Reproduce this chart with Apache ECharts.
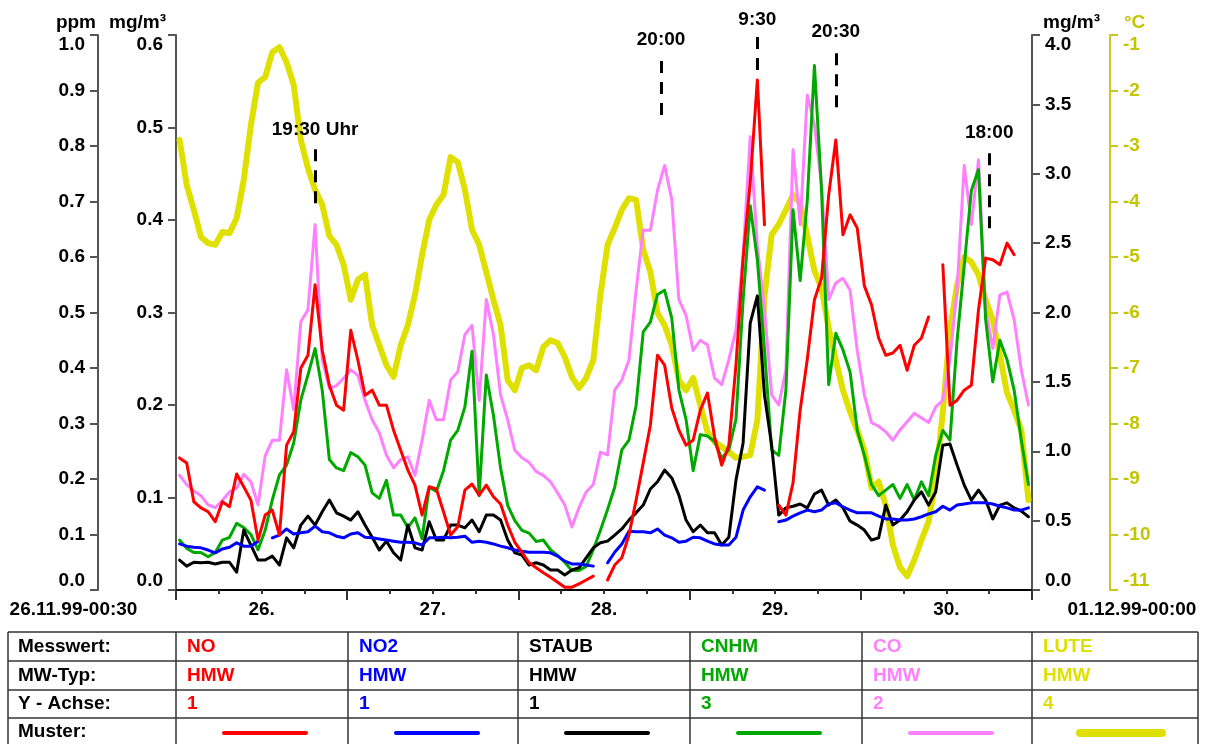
<!DOCTYPE html>
<html>
<head>
<meta charset="utf-8">
<script src="https://cdn.jsdelivr.net/npm/echarts@6.0.0/dist/echarts.min.js"></script>
<style>
  html, body { margin: 0; padding: 0; background: #ffffff; }
  #chart { width: 1210px; height: 744px; }
</style>
</head>
<body>
<div id="chart"></div>
<script>
// Half-hour means (HMW), one value per hour, 26.11.99 00:30 .. 30.11.99 23:30
const FONT = '"Liberation Sans", Arial, Helvetica, sans-serif';
const START_HOUR = 0.5;
const HOURS = Array.from({ length: 120 }, (_, i) => START_HOUR + i);

// NO [ppm] – Y axis 1
const NO = [
  0.238,0.229,0.159,0.148,0.141,0.123,0.159,0.150,0.209,0.186,
  0.162,0.090,0.135,0.144,0.099,0.261,0.285,0.400,0.423,0.550,
  0.432,0.369,0.333,0.324,0.468,0.414,0.351,0.360,0.333,0.333,
  0.288,0.252,0.216,0.189,0.135,0.186,0.182,0.141,0.099,0.114,
  0.180,0.191,0.171,0.189,0.168,0.155,0.117,0.086,0.068,0.049,
  0.040,0.031,0.023,0.014,0.005,0.005,0.011,0.018,0.025,null,
  0.018,0.045,0.058,0.099,0.162,0.229,0.297,0.423,0.405,0.328,
  0.288,0.261,0.270,0.324,0.355,0.276,0.225,0.261,0.405,0.598,
  0.735,0.919,0.658,null,0.153,0.135,0.193,0.324,0.416,0.523,
  0.562,0.712,0.811,0.640,0.676,0.652,0.548,0.514,0.454,0.423,
  0.427,0.441,0.396,0.441,0.454,0.492,null,0.586,0.333,0.342,
  0.360,0.369,0.505,0.598,0.595,0.586,0.625,0.604,null,0.550
];

// NO2 [ppm] – Y axis 1
const NO2 = [
  0.083,0.079,0.077,0.076,0.072,0.067,0.074,0.077,0.085,0.079,
  0.079,0.088,null,0.094,0.099,0.110,0.101,0.103,0.105,0.115,
  0.105,0.103,0.097,0.094,0.101,0.103,0.095,0.094,0.092,0.090,
  0.088,0.086,0.086,0.085,0.081,0.094,0.094,0.095,0.094,0.095,
  0.097,0.086,0.088,0.086,0.083,0.079,0.076,0.072,0.070,0.068,
  0.068,0.068,0.067,0.061,0.052,0.047,0.047,0.045,0.043,null,
  0.049,0.068,0.083,0.106,0.105,0.105,0.103,0.110,0.099,0.094,
  0.086,0.088,0.095,0.094,0.088,0.083,0.081,0.081,0.095,0.144,
  0.168,0.186,0.180,null,0.123,0.126,0.133,0.139,0.144,0.141,
  0.144,0.155,0.157,0.150,0.144,0.139,0.139,0.139,0.133,0.128,
  0.128,0.126,0.126,0.128,0.132,0.137,0.141,0.151,0.144,0.153,
  0.155,0.157,0.157,0.157,0.155,0.151,0.148,0.144,0.144,0.148
];

// STAUB [mg/m³] – Y axis 1
const STAUB = [
  0.054,0.043,0.050,0.049,0.050,0.047,0.050,0.050,0.032,0.108,
  0.081,0.054,0.054,0.061,0.045,0.094,0.076,0.117,0.133,0.117,
  0.141,0.162,0.139,0.133,0.126,0.141,0.117,0.095,0.072,0.088,
  0.067,0.054,0.117,0.076,0.072,0.123,0.090,0.090,0.117,0.117,
  0.112,0.126,0.105,0.135,0.135,0.126,0.090,0.067,0.063,0.045,
  0.049,0.045,0.036,0.036,0.027,0.036,0.040,0.058,0.076,0.085,
  0.088,0.099,0.110,0.126,0.139,0.153,0.182,0.195,0.216,0.202,
  0.171,0.126,0.105,0.117,0.103,0.103,0.081,0.095,0.198,0.265,
  0.481,0.530,0.351,0.261,0.135,0.148,0.151,0.155,0.148,0.173,
  0.180,0.153,0.162,0.148,0.124,0.117,0.108,0.090,0.094,0.153,
  0.117,0.126,0.141,0.162,0.177,0.153,0.177,0.261,0.263,0.225,
  0.189,0.162,0.180,0.162,0.128,0.153,0.157,0.148,0.142,0.132
];

// CNHM [mg/m³] – Y axis 3
const CNHM = [
  0.36,0.30,0.27,0.27,0.24,0.27,0.36,0.38,0.48,0.45,
  0.40,0.29,0.43,0.65,0.83,0.90,1.06,1.37,1.55,1.74,
  1.44,0.94,0.88,0.86,0.99,0.96,0.90,0.70,0.66,0.79,
  0.54,0.54,0.45,0.52,0.37,0.74,0.71,0.86,1.08,1.15,
  1.32,1.72,0.68,1.55,1.26,0.88,0.61,0.50,0.43,0.41,
  0.35,0.36,0.29,0.25,0.20,0.14,0.14,0.17,0.29,0.43,
  0.58,0.74,1.01,1.08,1.33,1.86,1.93,2.13,2.16,1.96,
  1.44,1.23,0.86,1.12,1.11,1.07,0.95,1.01,1.23,2.09,
  2.77,2.38,1.73,1.01,0.97,1.44,2.74,2.23,2.81,3.78,
  2.88,1.48,1.85,1.73,1.57,1.15,0.97,0.76,0.68,0.72,
  0.76,0.66,0.76,0.65,0.78,0.68,0.97,1.15,1.08,1.80,
  2.34,2.88,3.03,1.95,1.50,1.80,1.66,1.44,1.08,0.76
];

// CO [mg/m³] – Y axis 2
const CO = [
  0.124,0.114,0.107,0.102,0.092,0.089,0.097,0.106,0.110,0.125,
  0.117,0.092,0.145,0.162,0.162,0.238,0.195,0.290,0.303,0.395,
  0.249,0.218,0.221,0.229,0.238,0.232,0.205,0.184,0.170,0.146,
  0.132,0.141,0.144,0.124,0.162,0.205,0.184,0.184,0.227,0.236,
  0.276,0.286,0.205,0.314,0.276,0.211,0.184,0.151,0.143,0.138,
  0.128,0.124,0.117,0.105,0.092,0.068,0.089,0.106,0.114,0.149,
  0.146,0.216,0.227,0.249,0.324,0.389,0.389,0.432,0.459,0.422,
  0.314,0.297,0.259,0.270,0.265,0.229,0.222,0.249,0.281,0.362,
  0.490,0.372,0.303,0.211,0.200,0.238,0.476,0.395,0.535,0.503,
  0.438,0.314,0.332,0.337,0.324,0.259,0.211,0.181,0.177,0.171,
  0.162,0.173,0.182,0.191,0.186,0.181,0.198,0.205,0.250,0.325,
  0.459,0.395,0.465,0.303,0.261,0.319,0.322,0.292,0.238,0.200
];

// LUTE [°C] – Y axis 4
const LUTE = [
  -2.89,-3.70,-4.15,-4.64,-4.75,-4.78,-4.55,-4.57,-4.30,-3.61,
  -2.62,-1.86,-1.76,-1.31,-1.22,-1.49,-1.90,-2.89,-3.40,-3.79,
  -4.06,-4.62,-4.78,-5.14,-5.77,-5.41,-5.32,-6.23,-6.59,-6.95,
  -7.16,-6.59,-6.23,-5.68,-4.96,-4.33,-4.06,-3.88,-3.20,-3.29,
  -3.79,-4.51,-4.78,-5.27,-5.77,-6.23,-7.22,-7.40,-7.00,-6.95,
  -7.04,-6.62,-6.50,-6.55,-6.80,-7.16,-7.36,-7.18,-6.86,-5.68,
  -4.78,-4.48,-4.15,-3.94,-3.97,-4.87,-5.27,-6.01,-6.23,-6.59,
  -7.22,-7.40,-7.18,-7.67,-8.15,-8.33,-8.42,-8.51,-8.62,-8.60,
  -8.57,-7.94,-5.70,-4.60,-4.41,-4.15,-3.88,-4.03,-4.62,-5.25,
  -5.56,-6.28,-6.86,-7.40,-7.79,-8.12,-8.48,-9.16,-9.05,-9.47,
  -10.19,-10.59,-10.75,-10.46,-10.10,-9.77,-9.02,-7.79,-6.32,-5.50,
  -5.00,-5.09,-5.32,-5.77,-6.14,-6.77,-7.45,-7.76,-8.12,-9.38
];

// Legend table contents
const SERIES_NAMES = ['NO', 'NO2', 'STAUB', 'CNHM', 'CO', 'LUTE'];
const SERIES_DATA = [NO, NO2, STAUB, CNHM, CO, LUTE];
const MW_TYPES = ['HMW', 'HMW', 'HMW', 'HMW', 'HMW', 'HMW'];
const Y_AXIS_NUMBERS = [1, 1, 1, 3, 2, 4];
const ROW_TITLES = ['Messwert:', 'MW-Typ:', 'Y - Achse:', 'Muster:'];
const COLORS = ['#ff0000', '#0000ff', '#000000', '#00a800', '#ff80ff', '#e0e000'];
const LINE_WIDTHS = [3, 3, 3, 3, 3, 6];
const DRAW_ORDER = [5, 4, 3, 2, 1, 0];

// X axis: hours since 26.11.99 00:00
const X_MIN = 0, X_MAX = 120;
const DAY_LABEL_HOURS = [12, 36, 60, 84, 108];
const DAY_LABELS = ['26.', '27.', '28.', '29.', '30.'];
const START_LABEL = '26.11.99-00:30';
const END_LABEL = '01.12.99-00:00';

// Y axes
const Y_AXES = [
  { name: 'ppm',   min: 0,   max: 1,   interval: 0.1, pos: 'left',  offset: 78, digits: 1 },
  { name: 'mg/m³', min: 0,   max: 0.6, interval: 0.1, pos: 'left',  offset: 0,  digits: 1 },
  { name: 'mg/m³', min: 0,   max: 4,   interval: 0.5, pos: 'right', offset: 0,  digits: 1 },
  { name: '°C',    min: -11, max: -1,  interval: 1,   pos: 'right', offset: 78, digits: 0 }
];
const TEMP_AXIS_COLOR = '#c4c400';

// Time markers (ppm scale)
const MARK_TIMES = [19.5, 68, 81.5, 92.5, 114];
const MARK_TEXTS = ['19:30 Uhr', '20:00', '9:30', '20:30', '18:00'];
const MARK_FROM = [0.697, 0.856, 0.937, 0.870, 0.652];
const MARK_TO = [0.802, 0.964, 1.0, 0.977, 0.796];

const chart = echarts.init(document.getElementById('chart'), null, { renderer: 'canvas' });

const boldText = { fontFamily: FONT, fontWeight: 'bold', fontSize: 19 };

const yAxis = Y_AXES.map((a, idx) => {
  const isTemp = idx === 3;
  const lineColor = isTemp ? '#c8c820' : '#555555';
  const textColor = isTemp ? TEMP_AXIS_COLOR : '#000000';
  const left = a.pos === 'left';
  return {
    type: 'value', min: a.min, max: a.max, interval: a.interval,
    position: a.pos, offset: a.offset,
    name: a.name, nameLocation: 'end', nameGap: 3,
    nameTextStyle: Object.assign({}, boldText, {
      color: textColor,
      align: left ? 'right' : 'left',
      padding: left ? [0, idx === 0 ? 2 : 10, 0, 0] : [0, 0, 0, idx === 3 ? 14 : 11]
    }),
    splitLine: { show: false },
    axisLine: { show: true, onZero: false, lineStyle: { color: lineColor, width: 2 } },
    axisTick: { show: true, inside: false, length: 8, lineStyle: { color: lineColor, width: 2 } },
    axisLabel: Object.assign({}, boldText, {
      color: textColor, margin: 13,
      verticalAlignMinLabel: 'bottom', verticalAlignMaxLabel: 'top',
      formatter: v => v.toFixed(a.digits)
    })
  };
});

const xLabelValues = [X_MIN].concat(DAY_LABEL_HOURS, [X_MAX]);
function xLabel(v) {
  if (v === X_MIN) return '{s|' + START_LABEL + '}';
  if (v === X_MAX) return '{e|' + END_LABEL + '}';
  const i = DAY_LABEL_HOURS.indexOf(v);
  return i >= 0 ? DAY_LABELS[i] : '';
}

const series = DRAW_ORDER.map(i => {
  const s = {
    name: SERIES_NAMES[i], type: 'line',
    xAxisIndex: 0, yAxisIndex: Y_AXIS_NUMBERS[i] - 1,
    data: HOURS.map((h, k) => [h, SERIES_DATA[i][k] == null ? '-' : SERIES_DATA[i][k]]),
    showSymbol: false, symbol: 'none', connectNulls: false, clip: false,
    lineStyle: { color: COLORS[i], width: LINE_WIDTHS[i], join: 'round', cap: 'round' },
    itemStyle: { color: COLORS[i] },
    silent: true, animation: false
  };
  if (i === 0) {
    s.markLine = {
      silent: true, symbol: ['none', 'none'], animation: false,
      lineStyle: { color: '#000000', width: 3, type: [12, 9] },
      label: Object.assign({}, boldText, {
        show: true, position: 'end', distance: 6, color: '#000000',
        formatter: p => p.name
      }),
      emphasis: { disabled: true },
      data: MARK_TIMES.map((t, k) => [
        { name: MARK_TEXTS[k], coord: [t, MARK_FROM[k]] },
        { coord: [t, MARK_TO[k]] }
      ])
    };
  }
  return s;
});

// Legend table drawn below the plot
const TABLE_X = [8, 176, 348, 518, 690, 862, 1032, 1198];
const TABLE_Y = [632, 661, 690, 718, 750];
const graphic = [];
TABLE_Y.slice(0, 4).forEach(y => graphic.push({
  type: 'line', silent: true,
  shape: { x1: TABLE_X[0], y1: y, x2: TABLE_X[TABLE_X.length - 1], y2: y },
  style: { stroke: '#333333', lineWidth: 1.5 }
}));
TABLE_X.forEach(x => graphic.push({
  type: 'line', silent: true,
  shape: { x1: x, y1: TABLE_Y[0], x2: x, y2: TABLE_Y[TABLE_Y.length - 1] },
  style: { stroke: '#333333', lineWidth: 1.5 }
}));
function cellText(text, x, row, color) {
  const yc = row === 3 ? (TABLE_Y[3] + 746) / 2 : (TABLE_Y[row] + TABLE_Y[row + 1]) / 2;
  graphic.push({
    type: 'text', silent: true, x: x, y: yc,
    style: {
      text: text, fill: color, font: 'bold 19px ' + FONT,
      textAlign: 'left', textVerticalAlign: 'middle'
    }
  });
}
ROW_TITLES.forEach((t, r) => cellText(t, TABLE_X[0] + 10, r, '#000000'));
SERIES_NAMES.forEach((name, i) => {
  const x0 = TABLE_X[i + 1];
  cellText(name, x0 + 11, 0, COLORS[i]);
  cellText(MW_TYPES[i], x0 + 11, 1, COLORS[i]);
  cellText(String(Y_AXIS_NUMBERS[i]), x0 + 11, 2, COLORS[i]);
  const ym = (TABLE_Y[3] + 746) / 2 + 1;
  graphic.push({
    type: 'line', silent: true,
    shape: { x1: x0 + 48, y1: ym, x2: x0 + 130, y2: ym },
    style: { stroke: COLORS[i], lineWidth: i === 5 ? 8 : 4, lineCap: 'round' }
  });
});

chart.setOption({
  animation: false,
  backgroundColor: '#ffffff',
  textStyle: { fontFamily: FONT },
  grid: { left: 176, right: 178, top: 35, bottom: 154, containLabel: false },
  xAxis: [{
    type: 'value', min: X_MIN, max: X_MAX, interval: 24,
    splitLine: { show: false },
    axisLine: { show: true, onZero: false, lineStyle: { color: '#000000', width: 2 } },
    axisTick: { show: true, length: 10, lineStyle: { color: '#333333', width: 2 } },
    minorTick: { show: true, splitNumber: 4, length: 4, lineStyle: { color: '#333333', width: 2 } },
    minorSplitLine: { show: false },
    axisLabel: Object.assign({}, boldText, {
      color: '#000000', margin: 10,
      customValues: xLabelValues,
      showMinLabel: true, showMaxLabel: true,
      formatter: xLabel,
      rich: {
        s: Object.assign({}, boldText, { padding: [0, 205, 0, 0] }),
        e: Object.assign({}, boldText, { padding: [0, 0, 0, 200] })
      }
    })
  }],
  yAxis: yAxis,
  series: series,
  graphic: graphic
});
</script>
</body>
</html>
